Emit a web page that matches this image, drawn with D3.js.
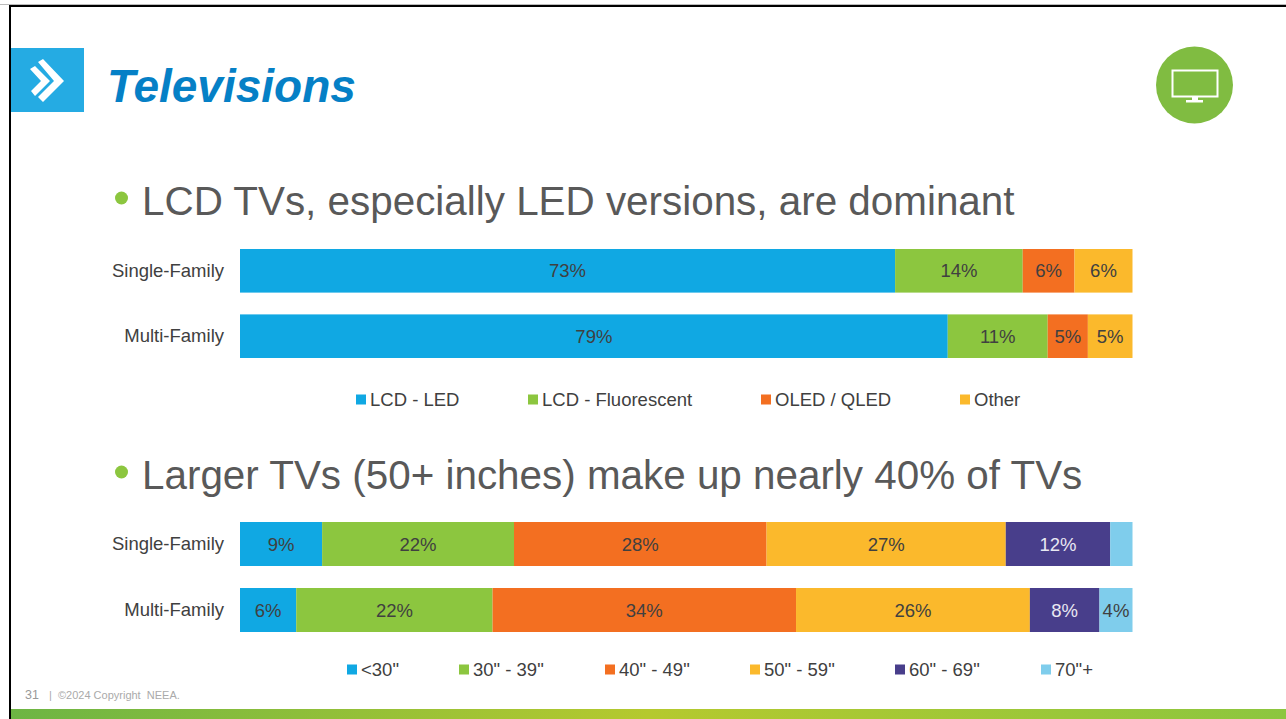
<!DOCTYPE html>
<html>
<head>
<meta charset="utf-8">
<script src="https://cdn.jsdelivr.net/npm/d3@7"></script>
<style>
  html, body { margin: 0; padding: 0; background: #fff; overflow: hidden; }
  text { font-family: "Liberation Sans", Arial, sans-serif; }
</style>
</head>
<body>
<div id="slide"></div>
<script>
const WIDTH = 1286, HEIGHT = 719;

const homes = ["Single-Family", "Multi-Family"];

const techTypes = ["LCD - LED", "LCD - Fluorescent", "OLED / QLED", "Other"];
const techColors = ["#10a8e3", "#8cc63f", "#f36f21", "#fbb92c"];
const techSingle = [73.4, 14.3, 5.8, 6.5];
const techMulti = [79.3, 11.2, 4.5, 5.0];
const techSingleLabels = ["73%", "14%", "6%", "6%"];
const techMultiLabels = ["79%", "11%", "5%", "5%"];

const sizeTypes = ['<30"', '30" - 39"', '40" - 49"', '50" - 59"', '60" - 69"', '70"+'];
const sizeColors = ["#10a8e3", "#8cc63f", "#f36f21", "#fbb92c", "#483e8b", "#7fcdec"];
const sizeSingle = [9.2, 21.5, 28.3, 26.8, 11.7, 2.5];
const sizeMulti = [6.3, 22.0, 34.0, 26.2, 7.8, 3.7];
const sizeSingleLabels = ["9%", "22%", "28%", "27%", "12%", ""];
const sizeMultiLabels = ["6%", "22%", "34%", "26%", "8%", "4%"];

const techLegendX = [356, 528, 761, 960];
const sizeLegendX = [347, 459, 605, 750, 895, 1041];

const svg = d3.select("#slide").append("svg")
  .attr("width", WIDTH).attr("height", HEIGHT)
  .attr("viewBox", `0 0 ${WIDTH} ${HEIGHT}`)
  .style("display", "block");

// slide frame
svg.append("rect").attr("y", 4).attr("width", WIDTH).attr("height", 1).attr("fill", "#bbb");
svg.append("rect").attr("x", 9).attr("y", 5).attr("width", WIDTH - 9).attr("height", 2).attr("fill", "#000");
svg.append("rect").attr("x", 9).attr("y", 5).attr("width", 2).attr("height", HEIGHT - 5).attr("fill", "#000");

// footer band
const grad = svg.append("defs").append("linearGradient").attr("id", "footerGrad");
grad.append("stop").attr("offset", "0%").attr("stop-color", "#6db544");
grad.append("stop").attr("offset", "50%").attr("stop-color", "#b5c92e");
grad.append("stop").attr("offset", "100%").attr("stop-color", "#8cc63f");
svg.append("rect").attr("x", 11).attr("y", 709).attr("width", WIDTH - 11).attr("height", 10).attr("fill", "url(#footerGrad)");

svg.append("text").attr("x", 25).attr("y", 699).attr("font-size", 12.5).attr("fill", "#999").text("31");
svg.append("text").attr("x", 49).attr("y", 699).attr("font-size", 11).attr("fill", "#aaa")
  .style("white-space", "pre").text("|  ©2024 Copyright  NEEA.");

// title block
svg.append("rect").attr("x", 11).attr("y", 48).attr("width", 73).attr("height", 64).attr("fill", "#25abe3");
svg.append("path").attr("d", "M38 62 L43 59 L64 81 L43 102 L38 97 L54 81 Z").attr("fill", "#fff");
svg.append("path").attr("d", "M30 69 L35 66 L50 81 L35 96 L31 91 L41 81 Z").attr("fill", "#fff");
svg.append("text").attr("x", 107).attr("y", 102).attr("font-size", 46)
  .attr("font-weight", "bold").attr("font-style", "italic").attr("fill", "#0580c6").text("Televisions");

// tv icon
svg.append("circle").attr("cx", 1194.5).attr("cy", 85).attr("r", 38.5).attr("fill", "#80bc41");
svg.append("rect").attr("x", 1172.5).attr("y", 70.5).attr("width", 45).attr("height", 26)
  .attr("fill", "none").attr("stroke", "#fff").attr("stroke-width", 2);
svg.append("rect").attr("x", 1192).attr("y", 97).attr("width", 6).attr("height", 4).attr("fill", "#fff");
svg.append("rect").attr("x", 1186).attr("y", 100).attr("width", 17).attr("height", 2.5).attr("fill", "#fff");

function heading(y, label) {
  svg.append("circle").attr("cx", 121.5).attr("cy", y - 17).attr("r", 6.5).attr("fill", "#8cc63f");
  svg.append("text").attr("x", 142).attr("y", y).attr("font-size", 40.4).attr("fill", "#595959").text(label);
}
heading(215, "LCD TVs, especially LED versions, are dominant");
heading(489, "Larger TVs (50+ inches) make up nearly 40% of TVs");

const x = d3.scaleLinear().domain([0, 100]).range([240, 1132.5]);

function stackedChart(opts) {
  const y = d3.scaleBand().domain(homes).range(opts.yRange).paddingInner(1 / 3).paddingOuter(0);
  const rows = [
    { home: homes[0], values: opts.single, labels: opts.singleLabels },
    { home: homes[1], values: opts.multi, labels: opts.multiLabels }
  ];
  const stack = d3.stack().keys(d3.range(opts.types.length)).value((d, k) => d.values[k]);
  const layers = stack(rows);

  const g = svg.append("g");
  const layer = g.selectAll("g").data(layers).join("g").attr("fill", d => opts.colors[d.key]);
  layer.selectAll("rect").data(d => d).join("rect")
    .attr("x", d => x(d[0]))
    .attr("y", d => y(d.data.home))
    .attr("width", d => x(d[1]) - x(d[0]))
    .attr("height", y.bandwidth());

  layer.each(function (l) {
    d3.select(this).selectAll("text").data(l).join("text")
      .attr("x", d => (x(d[0]) + x(d[1])) / 2)
      .attr("y", d => y(d.data.home) + y.bandwidth() / 2 + 6.5)
      .attr("text-anchor", "middle")
      .attr("font-size", 18.5)
      .attr("fill", l.key === 4 ? "#e8e8f2" : "#404040")
      .text(d => d.data.labels[l.key]);
  });

  const axis = d3.axisLeft(y).tickSize(0).tickPadding(0);
  const ax = svg.append("g").attr("transform", "translate(224,0)").call(axis);
  ax.select(".domain").remove();
  ax.selectAll("text").attr("font-size", 18.5).attr("fill", "#404040")
    .style("font-family", '"Liberation Sans", Arial, sans-serif');

  const leg = svg.append("g").selectAll("g").data(opts.types).join("g")
    .attr("transform", (d, i) => `translate(${opts.legendX[i]},${opts.legendY})`);
  leg.append("rect").attr("y", -5).attr("width", 10).attr("height", 10).attr("fill", (d, i) => opts.colors[i]);
  leg.append("text").attr("x", 14).attr("y", 6).attr("font-size", 18.5).attr("fill", "#404040").text(d => d);
}

stackedChart({
  yRange: [249, 358],
  types: techTypes, colors: techColors,
  single: techSingle, multi: techMulti,
  singleLabels: techSingleLabels, multiLabels: techMultiLabels,
  legendX: techLegendX, legendY: 399.5
});
stackedChart({
  yRange: [522, 632],
  types: sizeTypes, colors: sizeColors,
  single: sizeSingle, multi: sizeMulti,
  singleLabels: sizeSingleLabels, multiLabels: sizeMultiLabels,
  legendX: sizeLegendX, legendY: 669.5
});
</script>
</body>
</html>
